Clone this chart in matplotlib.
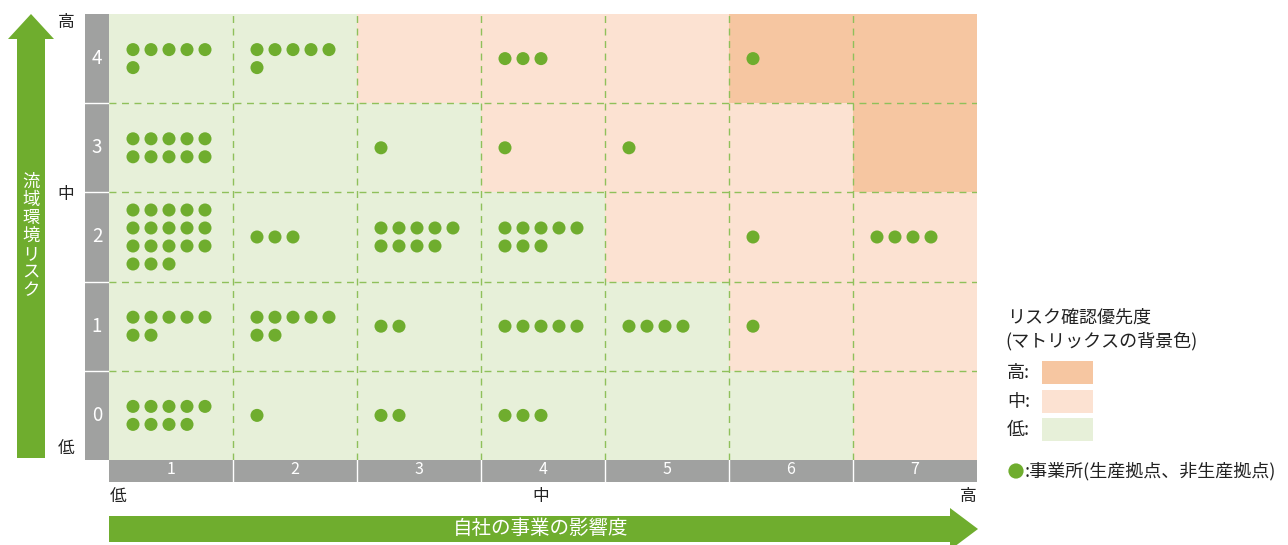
import numpy as np
import matplotlib
matplotlib.use('Agg')
import matplotlib.pyplot as plt
from matplotlib.patches import Rectangle, Polygon

plt.rcParams['font.family'] = ['Noto Sans CJK JP', 'DejaVu Sans']

# 事業所数 (行: 流域環境リスク 0→4, 列: 事業の影響度 1→7)
col_labels = ['1', '2', '3', '4', '5', '6', '7']
row_labels = ['0', '1', '2', '3', '4']
site_counts = [
    [9, 1, 2, 3, 0, 0, 0],
    [7, 7, 2, 5, 4, 1, 0],
    [18, 3, 9, 8, 0, 1, 4],
    [10, 0, 1, 1, 1, 0, 0],
    [6, 6, 0, 3, 0, 1, 0],
]
# 確認優先度 0:低 1:中 2:高
priority = [
    [0, 0, 0, 0, 0, 0, 1],
    [0, 0, 0, 0, 0, 1, 1],
    [0, 0, 0, 0, 1, 1, 1],
    [0, 0, 0, 1, 1, 1, 2],
    [0, 0, 1, 1, 1, 2, 2],
]
priority_names = ['低', '中', '高']

bg_colors = ['#e7f0d9', '#fce2d2', '#f6c6a1']
green = '#6fad2e'
gray = '#a0a1a0'
dash_col = '#8fc05a'
txt_col = '#222222'

W, H = 1288, 545
fig = plt.figure(figsize=(W / 100, H / 100), dpi=100)

# 画素座標の下地レイヤー
ax_px = fig.add_axes([0, 0, 1, 1])
ax_px.set_xlim(0, W)
ax_px.set_ylim(H, 0)
ax_px.axis('off')

gx0, gx1, gy0, gy1 = 109, 977, 14, 460
cw = (gx1 - gx0) / 7
rh = (gy1 - gy0) / 5

# マトリックス
ax = fig.add_axes([gx0 / W, (H - gy1) / H, (gx1 - gx0) / W, (gy1 - gy0) / H])
ax.set_xlim(0, 7)
ax.set_ylim(0, 5)
ax.axis('off')

for r in range(5):
    for c in range(7):
        ax.add_patch(Rectangle((c, r), 1, 1, facecolor=bg_colors[priority[r][c]],
                               edgecolor='none', zorder=0))

for c in range(1, 7):
    ax.plot([c, c], [0, 5], color=dash_col, lw=1, ls=(0, (5, 4)), zorder=1)
for r in range(1, 5):
    ax.plot([0, 7], [r, r], color=dash_col, lw=1, ls=(0, (5, 4)), zorder=1)

# 事業所の点 (1行5個まで)
step_x = 18 / cw
step_y = 18 / rh
off_x = 24 / cw
xs, ys = [], []
for r in range(5):
    for c in range(7):
        n = site_counts[r][c]
        if n == 0:
            continue
        lines = (n + 4) // 5
        for i in range(n):
            k, j = divmod(i, 5)
            xs.append(c + off_x + j * step_x)
            ys.append(r + 0.5 + ((lines - 1) / 2 - k) * step_y)
ax.scatter(xs, ys, s=88, color=green, edgecolors='none', zorder=3)

# 軸の灰色帯
ax_px.add_patch(Rectangle((85, gy0), gx0 - 85, gy1 - gy0, facecolor=gray, edgecolor='none'))
ax_px.add_patch(Rectangle((gx0, gy1), gx1 - gx0, 482 - gy1, facecolor=gray, edgecolor='none'))
for r in range(1, 5):
    y = gy0 + r * rh
    ax_px.plot([85, gx0], [y, y], color='white', lw=1)
for c in range(1, 7):
    x = gx0 + c * cw
    ax_px.plot([x, x], [gy1, 482], color='white', lw=1)
for r, lab in enumerate(row_labels):
    ax_px.text(97, gy1 - (r + 0.5) * rh, lab, color='white', fontsize=13.5,
               ha='center', va='center')
for c, lab in enumerate(col_labels):
    ax_px.text(gx0 + (c + 0.5) * cw, 470, lab, color='white', fontsize=11.5,
               ha='center', va='center')

# 縦矢印
ax_px.add_patch(Polygon([(17, 458), (17, 39), (8, 39), (31, 14), (54, 39), (45, 39), (45, 458)],
                        closed=True, facecolor=green, edgecolor='none'))
ax_px.text(31, 236, '\n'.join('流域環境リスク'), color='white', fontsize=12.5,
           ha='center', va='center', linespacing=1.0)
ax_px.text(66, 22, priority_names[2], fontsize=12, ha='center', va='center', color=txt_col)
ax_px.text(66, 195, priority_names[1], fontsize=12, ha='center', va='center', color=txt_col)
ax_px.text(66, 449, priority_names[0], fontsize=12, ha='center', va='center', color=txt_col)

# 横矢印
ax_px.add_patch(Polygon([(109, 516), (950, 516), (950, 508), (978, 529), (950, 550),
                         (950, 542), (109, 542)],
                        closed=True, facecolor=green, edgecolor='none'))
ax_px.text(541, 529, '自社の事業の影響度', color='white', fontsize=14,
           ha='center', va='center')
ax_px.text(118, 497, priority_names[0], fontsize=12, ha='center', va='center', color=txt_col)
ax_px.text(541, 497, priority_names[1], fontsize=12, ha='center', va='center', color=txt_col)
ax_px.text(968, 497, priority_names[2], fontsize=12, ha='center', va='center', color=txt_col)

# 凡例
ax_px.text(1007, 318, 'リスク確認優先度', fontsize=13, ha='left', va='center', color=txt_col)
ax_px.text(1005, 341, '(マトリックスの背景色)', fontsize=13, ha='left', va='center',
           color=txt_col)
for i, p in enumerate([2, 1, 0]):
    y = 361 + i * 28.5
    ax_px.add_patch(Rectangle((1042, y), 51, 23, facecolor=bg_colors[p], edgecolor='none'))
    ax_px.text(1007, y + 12, priority_names[p] + ':', fontsize=13, ha='left', va='center',
               color=txt_col)
ax_px.scatter([1016], [471], s=120, color=green, edgecolors='none')
ax_px.text(1025, 471, ':事業所(生産拠点、非生産拠点)', fontsize=13, ha='left', va='center',
           color=txt_col)

fig.savefig('out.png', dpi=100)
